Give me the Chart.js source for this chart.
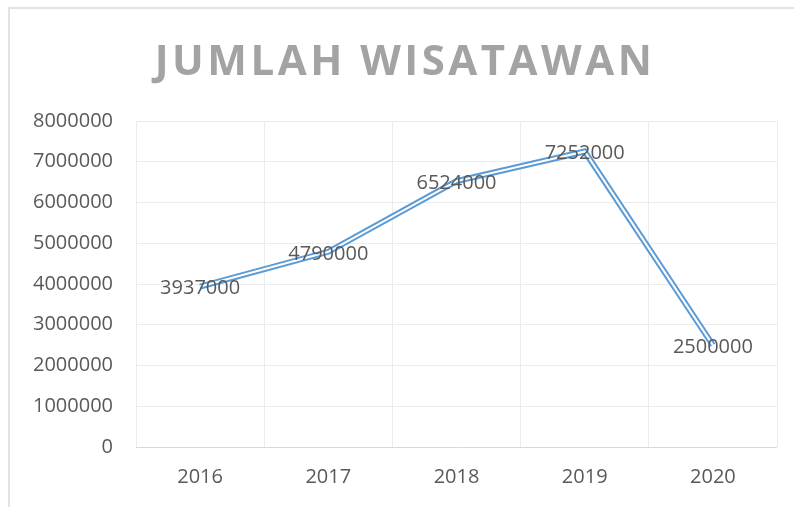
<!DOCTYPE html>
<html>
<head>
<meta charset="utf-8">
<script src="https://cdn.jsdelivr.net/npm/chart.js@4/dist/chart.umd.min.js"></script>
<style>
  html, body { margin: 0; padding: 0; background: #ffffff; }
  #wrap { position: relative; width: 794px; height: 507px; }
  #frame {
    position: absolute; left: 8px; top: 7px; width: 800px; height: 520px;
    border-left: 2px solid #e3e3e3; border-top: 2px solid #e3e3e3;
  }
</style>
</head>
<body>
<div id="wrap">
  <div id="frame"></div>
  <canvas id="touristChart" width="794" height="507"></canvas>
</div>
<script>
const chartTitle = 'JUMLAH WISATAWAN';
const years = ['2016', '2017', '2018', '2019', '2020'];
const visitors = [3937000, 4790000, 6524000, 7252000, 2500000];
const yTicks = [0, 1000000, 2000000, 3000000, 4000000, 5000000, 6000000, 7000000, 8000000];

const textGray = '#595959';
const lineBlue = '#5b9bd5';

// Title drawn by hand so it can carry letter spacing like the original
const titlePlugin = {
    id: 'spacedTitle',
    afterDraw(chart) {
        const ctx = chart.ctx;
        ctx.save();
        ctx.font = 'bold 42px "Open Sans"';
        ctx.fillStyle = '#a3a3a3';
        ctx.textAlign = 'center';
        ctx.textBaseline = 'alphabetic';
        if ('letterSpacing' in ctx) ctx.letterSpacing = '3.5px';
        ctx.fillText(chartTitle, 405, 75);
        ctx.restore();
    }
};

// Value labels centred on each point
const valueLabels = {
    id: 'valueLabels',
    afterDatasetsDraw(chart) {
        const ctx = chart.ctx;
        const meta = chart.getDatasetMeta(0);
        ctx.save();
        ctx.font = '20px "Open Sans"';
        ctx.fillStyle = textGray;
        ctx.textAlign = 'center';
        ctx.textBaseline = 'middle';
        meta.data.forEach((pt, i) => {
            ctx.fillText(String(visitors[i]), pt.x, pt.y + 2);
        });
        ctx.restore();
    }
};

const ctx = document.getElementById('touristChart').getContext('2d');
new Chart(ctx, {
    type: 'line',
    data: {
        labels: years,
        datasets: [
            {   // outer blue stroke
                data: visitors,
                borderColor: lineBlue,
                borderWidth: 6,
                pointRadius: 0,
                tension: 0,
                borderJoinStyle: 'miter',
                order: 2
            },
            {   // white core -> double line look
                data: visitors,
                borderColor: '#ffffff',
                borderWidth: 2,
                pointRadius: 0,
                tension: 0,
                borderJoinStyle: 'miter',
                order: 1
            }
        ]
    },
    options: {
        responsive: false,
        animation: false,
        layout: { padding: { left: 8, top: 121, right: 17, bottom: 0 } },
        plugins: {
            legend: { display: false },
            title: { display: false },
            tooltip: { enabled: false }
        },
        scales: {
            x: {
                offset: true,
                grid: { offset: true, color: '#ececec', lineWidth: 1, drawTicks: false },
                border: { display: false },
                ticks: { color: textGray, font: { family: 'Open Sans', size: 20 }, padding: 18 },
                afterFit: s => { s.height = 60; }
            },
            y: {
                min: 0,
                max: 8000000,
                afterBuildTicks: s => { s.ticks = yTicks.map(v => ({ value: v })); },
                grid: {
                    color: c => c.tick && c.tick.value === 0 ? '#d9d9d9' : '#ececec',
                    lineWidth: 1,
                    drawTicks: false
                },
                border: { display: false },
                ticks: {
                    color: textGray,
                    font: { family: 'Open Sans', size: 20 },
                    padding: 23,
                    callback: v => String(v)
                },
                afterFit: s => { s.width = 128; }
            }
        }
    },
    plugins: [titlePlugin, valueLabels]
});
</script>
</body>
</html>
